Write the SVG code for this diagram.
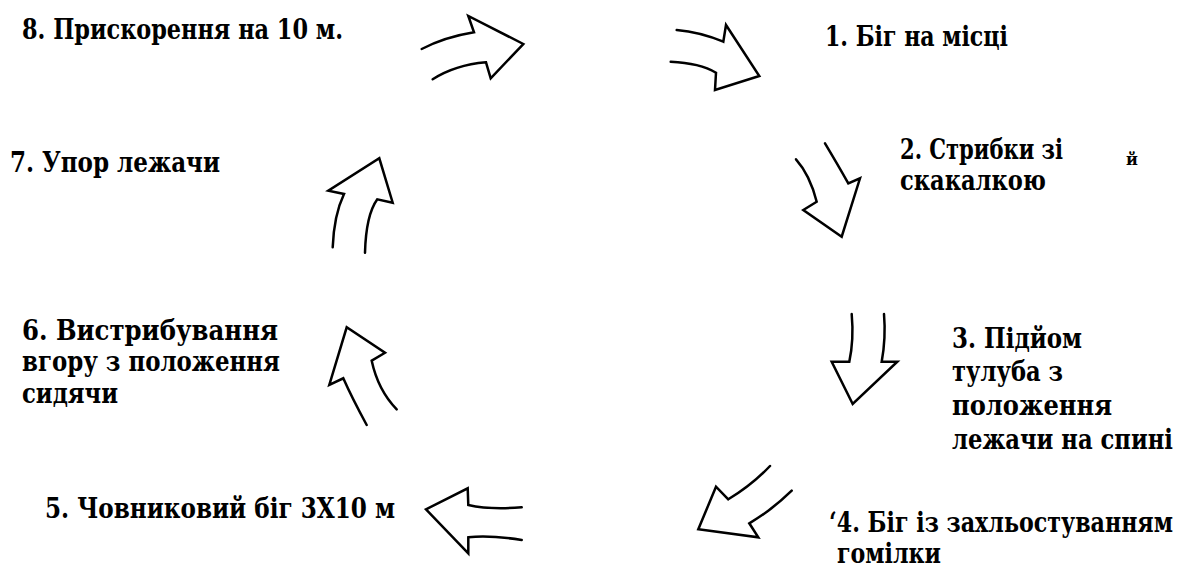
<svg xmlns="http://www.w3.org/2000/svg" width="1181" height="570" viewBox="0 0 1181 570">
<style>
.t{font-family:'DejaVu Serif',serif;font-weight:700;font-size:27px;fill:#000}
.a{fill:none;stroke:#000;stroke-width:2.5;stroke-linejoin:miter;stroke-linecap:round}
</style>
<rect width="1181" height="570" fill="#fff"/>
<g id="connectors">
<path class="a" d="M421.7,49 Q445,37 474,32.3 L468.3,16 L523.3,44 L490.7,78.3 L486,62.3 Q455,65 432.7,79.3"/>
<path class="a" d="M676.7,30 Q700,32 723.3,41.7 L726,25 L759.3,76 L715,90 L716,72.7 Q700,63 670.7,61.7"/>
<path class="a" d="M825,143.3 Q838,165 848.3,183.3 L860,178.3 L841.7,236.7 L803.3,210 L816.7,201.7 Q810,175 796,159.3"/>
<path class="a" d="M851.7,314 Q854,340 849.3,361.7 L831.7,361.7 L852.7,404 L897.3,361.7 L881.7,361.7 Q886,338 884,314"/>
<path class="a" d="M770,466 Q752,485 728.3,499.3 L716,486.7 L698.3,529.3 L758.3,537.3 L749.3,523.3 Q772,510 791.7,490.7"/>
<path class="a" d="M521.7,507.3 Q490,510 468.3,505 L467.7,488.3 L426,509.3 L468.3,553.3 L468.3,537.3 Q490,535 521.7,540"/>
<path class="a" d="M366.7,425 Q352,398 343.3,378.3 L329.3,385 L346.7,327.3 L385,352.7 L371.7,360.7 Q378,390 396.7,409.3"/>
<path class="a" d="M332.7,247.3 Q334,215 344,194 L328.3,190.7 L379.3,158.3 L392.7,202.7 L377.3,199.3 Q366,215 365,252.7"/>
</g>
<g id="n8"><text class="t" x="22" y="39" textLength="321" lengthAdjust="spacingAndGlyphs">8. Прискорення на 10 м.</text></g>
<g id="n1"><text class="t" x="825" y="46" textLength="183" lengthAdjust="spacingAndGlyphs">1. Біг на місці</text></g>
<g id="n7"><text class="t" x="10" y="172" textLength="210" lengthAdjust="spacingAndGlyphs">7. Упор лежачи</text></g>
<g id="n2"><text class="t" x="900" y="159" textLength="163" lengthAdjust="spacingAndGlyphs">2. Стрибки зі</text><text class="t" x="900" y="190" textLength="146" lengthAdjust="spacingAndGlyphs">скакалкою</text></g>
<g id="nj"><text class="t" x="1126" y="165" style="font-size:16px">й</text></g>
<g id="n3"><text class="t" x="952" y="348" textLength="130" lengthAdjust="spacingAndGlyphs">3. Підйом</text><text class="t" x="952" y="381" textLength="111" lengthAdjust="spacingAndGlyphs">тулуба з</text><text class="t" x="952" y="415" textLength="160" lengthAdjust="spacingAndGlyphs">положення</text><text class="t" x="952" y="449" textLength="221" lengthAdjust="spacingAndGlyphs">лежачи на спині</text></g>
<g id="n6"><text class="t" x="22" y="340" textLength="256" lengthAdjust="spacingAndGlyphs">6. Вистрибування</text><text class="t" x="22" y="371" textLength="258" lengthAdjust="spacingAndGlyphs">вгору з положення</text><text class="t" x="22" y="403" textLength="96" lengthAdjust="spacingAndGlyphs">сидячи</text></g>
<g id="n5"><text class="t" x="45" y="518" textLength="350" lengthAdjust="spacingAndGlyphs">5. Човниковий біг 3Х10 м</text></g>
<g id="n4"><text class="t" x="829" y="532" textLength="344" lengthAdjust="spacingAndGlyphs">‘4. Біг із захльостуванням</text><text class="t" x="837" y="563" textLength="104" lengthAdjust="spacingAndGlyphs">гомілки</text></g>
</svg>
